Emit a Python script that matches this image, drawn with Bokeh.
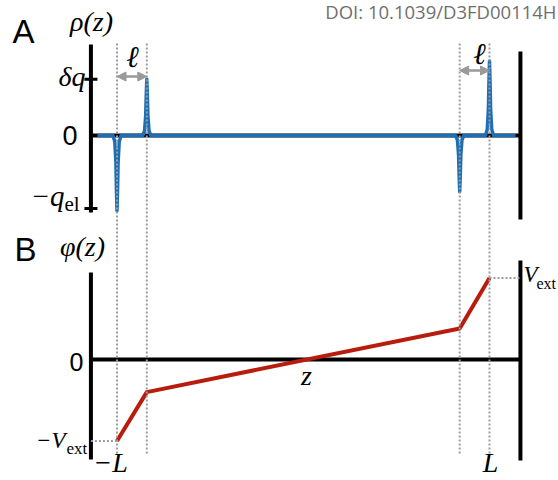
from bokeh.plotting import figure
from bokeh.models import Range1d, Arrow, NormalHead
from bokeh.core.properties import value
from bokeh.embed import file_html
from bokeh.resources import INLINE

# ---------------- data (z in units of L) ----------------
boundary_z = [-1.0, -0.84, 0.84, 1.0]          # -L, -L+ell, L-ell, L
spike_rho = [-1.03, 0.77, -0.77, 1.02]         # charge-density peaks (units of q_el)
spike_dz = [-0.022, -0.012, -0.006, -0.003, 0.0, 0.003, 0.006, 0.012, 0.022]
spike_frac = [0.0, 0.08, 0.35, 0.72, 1.0, 0.72, 0.35, 0.08, 0.0]
rho_line_ends = [-1.105, 1.14]

phi_z = [-1.0, -0.84, 0.84, 1.0]
phi_vals = [-1.0, -0.40, 0.38, 1.0]            # units of V_ext

rho_tick_vals = [0.77, -1.0]                   # delta q, -q_el
axis_left_z = -1.14
axis_right_z = 1.166
rho_left_axis = [-1.055, 1.247]
rho_right_axis = [-1.151, 1.151]
phi_left_axis = [-1.227, 1.067]
phi_right_axis = [-1.24, 1.215]
guide_span = [-1.153, 3.89]                    # dotted guides (phi units)
arrow_rho = [0.808, 0.89]

# ---------------- helpers for text placement ----------------
def zx(px):
    return (px - 302.75) / 186.25

def ry(py):
    return (135.0 - py) / 73.0

def py_(py):
    return (359.0 - py) / 81.5

W, H = 558, 480
p = figure(width=W, height=H, output_backend="svg", toolbar_location=None,
           x_range=Range1d(zx(0), zx(W)), y_range=Range1d(py_(H), py_(0)),
           x_axis_location=None, y_axis_location=None, min_border=0)
p.extra_y_ranges = {"rho": Range1d(ry(H), ry(0))}
p.grid.visible = False
p.outline_line_color = None
p.background_fill_color = "white"
p.border_fill_color = "white"

BLUE = "#1c6fb6"
RED = "#b81c0c"
GREY = "#9c9c9c"

# ---------------- panel A ----------------
p.segment(x0=[axis_left_z, axis_left_z, axis_right_z], y0=[rho_left_axis[0], 0, rho_right_axis[0]],
          x1=[axis_left_z, axis_right_z, axis_right_z], y1=[rho_left_axis[1], 0, rho_right_axis[1]],
          line_color="black", line_width=4, y_range_name="rho")
p.segment(x0=[axis_left_z - 0.035] * len(rho_tick_vals), y0=rho_tick_vals,
          x1=[axis_left_z + 0.035] * len(rho_tick_vals), y1=rho_tick_vals,
          line_color="black", line_width=3, y_range_name="rho")

zs = [rho_line_ends[0]]
rs = [0.0]
for c, h in zip(boundary_z, spike_rho):
    for dz, f in zip(spike_dz, spike_frac):
        zs.append(c + dz)
        rs.append(h * f)
zs.append(rho_line_ends[1])
rs.append(0.0)
p.line(zs, rs, line_color=BLUE, line_width=3.5, line_join="round", y_range_name="rho")

# ---------------- panel B ----------------
p.segment(x0=[axis_left_z, axis_left_z, axis_right_z], y0=[phi_left_axis[0], 0, phi_right_axis[0]],
          x1=[axis_left_z, axis_right_z, axis_right_z], y1=[phi_left_axis[1], 0, phi_right_axis[1]],
          line_color="black", line_width=4)
p.line(phi_z, phi_vals, line_color=RED, line_width=4, line_join="round")

# dotted guides
p.segment(x0=boundary_z, y0=[guide_span[0]] * 4, x1=boundary_z, y1=[guide_span[1]] * 4,
          line_color=GREY, line_width=2, line_dash="2 2")
p.segment(x0=[axis_left_z, phi_z[-1]], y0=[phi_vals[0], phi_vals[-1]],
          x1=[phi_z[0], axis_right_z], y1=[phi_vals[0], phi_vals[-1]],
          line_color=GREY, line_width=2, line_dash="2 2")

# ell arrows
for (za, zb), ya in zip([(boundary_z[0], boundary_z[1]), (boundary_z[2], boundary_z[3])], arrow_rho):
    p.add_layout(Arrow(start=NormalHead(size=9, fill_color="#999999", line_color="#999999"),
                       end=NormalHead(size=9, fill_color="#999999", line_color="#999999"),
                       x_start=za, y_start=ya, x_end=zb, y_end=ya,
                       line_color="#999999", line_width=2.5, y_range_name="rho"))

# ---------------- texts ----------------
SANS = value("Liberation Sans")
SERIF = value("Liberation Serif")
K = 0.40   # baseline correction (fraction of font size)

def txt(xp, yp, s, size, font=SERIF, style="italic", align="left", rng="default", color="black"):
    yc = yp - K * size
    y = ry(yc) if rng == "rho" else py_(yc)
    p.text(x=[zx(xp)], y=[y], text=[s], text_font=font, text_font_style=style,
           text_font_size=f"{size}px", text_align=align, text_baseline="alphabetic",
           text_color=color, y_range_name=rng)

# panel letters
txt(12, 44, "A", 33, font=SANS, style="normal", rng="rho")
txt(14, 262, "B", 33, font=SANS, style="normal")
# axis titles
txt(91, 32, "ρ(z)", 28, align="center", rng="rho")
txt(82, 257, "φ(z)", 28, align="center")
# tick labels panel A
txt(85, 87, "δq", 28, align="right", rng="rho")
txt(77, 146, "0", 27, font=SANS, style="normal", align="right", rng="rho")
txt(64, 207, "−q", 29, align="right", rng="rho")
txt(64, 212, "el", 21, style="normal", rng="rho")
# ell labels
txt(132, 68, "ℓ", 30, align="center", rng="rho")
txt(479, 65, "ℓ", 30, align="center", rng="rho")
# panel B labels
txt(83, 371, "0", 25, font=SANS, style="normal", align="right")
txt(306, 386, "z", 28, align="center")
txt(65, 449, "−V", 23, align="right")
txt(66, 455, "ext", 17, style="normal")
txt(523, 283, "V", 23)
txt(536, 289, "ext", 16, style="normal")
txt(110, 473, "−L", 28, align="center")
txt(490, 473, "L", 28, align="center")
# DOI
txt(556, 18, "DOI: 10.1039/D3FD00114H", 18.5, font=value("Open Sans"), style="normal",
    align="right", color="#6f6f6f")

open("out.html", "w").write(file_html(p, INLINE))
